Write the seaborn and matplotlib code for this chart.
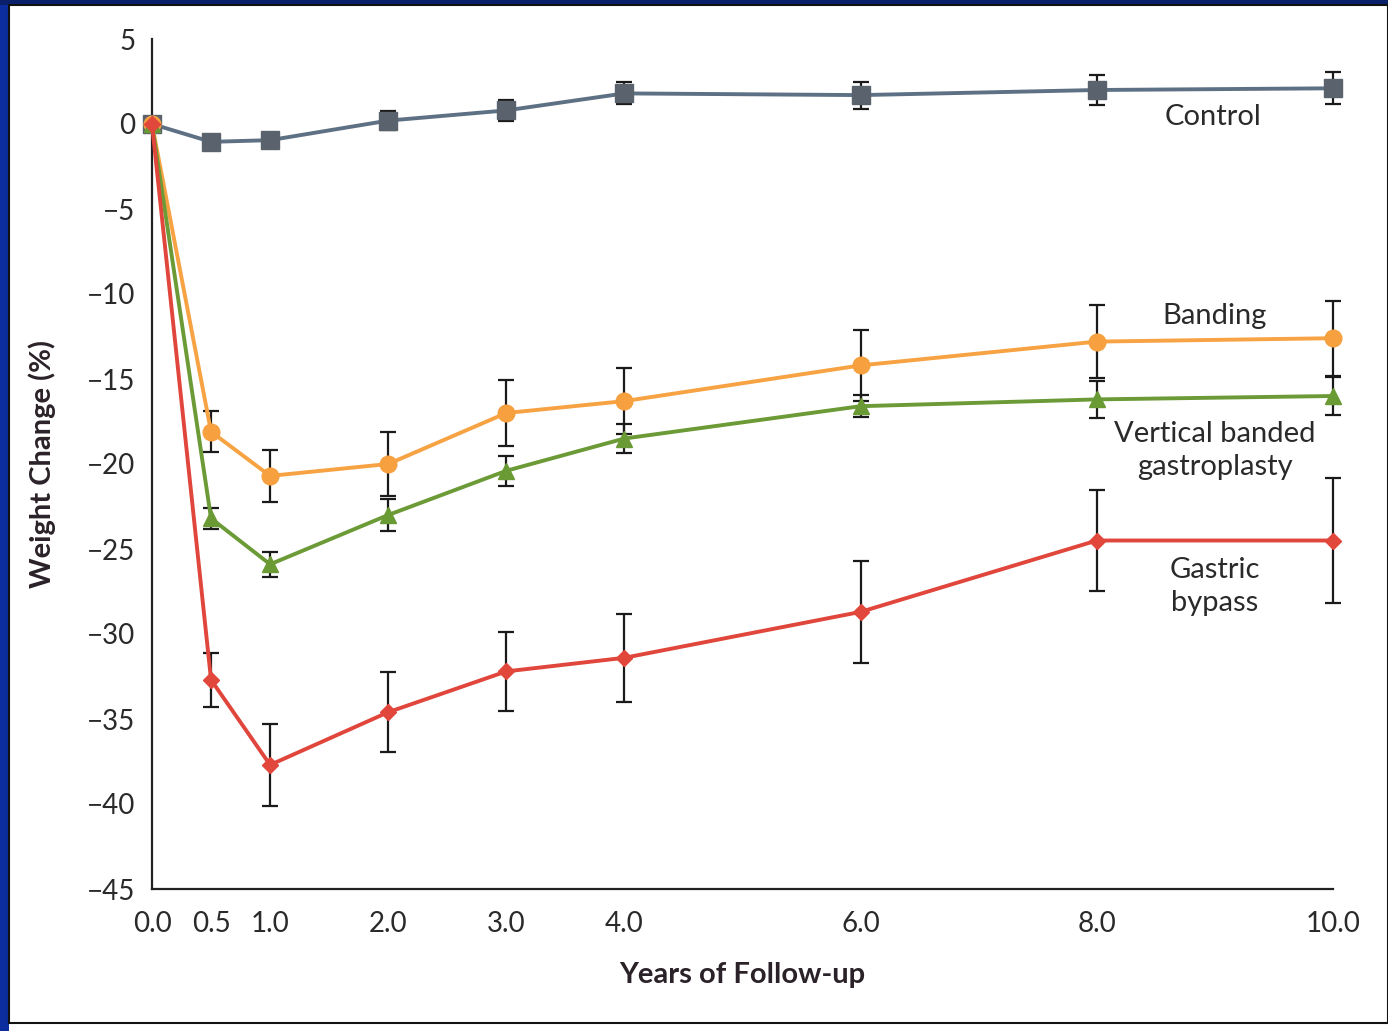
import numpy as np
import pandas as pd
import matplotlib
matplotlib.use("Agg")
import matplotlib.pyplot as plt
from matplotlib.patches import Rectangle
import seaborn as sns

# ---- data ----
years = [0.0, 0.5, 1.0, 2.0, 3.0, 4.0, 6.0, 8.0, 10.0]
control = [0.0, -1.05, -0.95, 0.2, 0.8, 1.8, 1.7, 2.0, 2.1]
control_err = [0.0, 0.4, 0.45, 0.55, 0.6, 0.65, 0.8, 0.9, 0.95]
banding = [0.0, -18.1, -20.7, -20.0, -17.0, -16.3, -14.2, -12.8, -12.6]
banding_err = [0.0, 1.2, 1.55, 1.9, 1.95, 1.95, 2.1, 2.15, 2.2]
vbg = [0.0, -23.2, -25.9, -23.0, -20.4, -18.5, -16.6, -16.2, -16.0]
vbg_err = [0.0, 0.6, 0.75, 0.95, 0.9, 0.85, 0.65, 1.1, 1.1]
bypass = [0.0, -32.7, -37.7, -34.6, -32.2, -31.4, -28.7, -24.5, -24.5]
bypass_err = [0.0, 1.6, 2.4, 2.35, 2.3, 2.6, 3.0, 2.95, 3.7]

groups = ["Control", "Banding", "Vertical banded gastroplasty", "Gastric bypass"]
x_ticks = [0, 0.5, 1, 2, 3, 4, 5, 6, 7, 8, 9, 10]
x_ticklabels = ["0.0", "0.5", "1.0", "2.0", "3.0", "4.0", "", "6.0", "", "8.0", "", "10.0"]
y_ticks = [5, 0, -5, -10, -15, -20, -25, -30, -35, -40, -45]

series_vals = [control, banding, vbg, bypass]
series_err = [control_err, banding_err, vbg_err, bypass_err]
rows = []
for g, vals, errs in zip(groups, series_vals, series_err):
    for x, v, e in zip(years, vals, errs):
        rows.append({"Years": x, "Change": v, "Err": e, "Group": g})
df = pd.DataFrame(rows)

palette = {"Control": "#5e7184", "Banding": "#f7a243",
           "Vertical banded gastroplasty": "#6b9a36", "Gastric bypass": "#e0463b"}
marker_fc = {"Control": "#5a636d", "Banding": "#f7a040",
             "Vertical banded gastroplasty": "#6a9a34", "Gastric bypass": "#e2473c"}
markers = {"Control": "s", "Banding": "o",
           "Vertical banded gastroplasty": "^", "Gastric bypass": "D"}
msizes = {"Control": 13, "Banding": 12, "Vertical banded gastroplasty": 11, "Gastric bypass": 8}

sns.set_theme(style="white")
plt.rcParams["font.family"] = ["Lato", "DejaVu Sans"]

W, H = 1388, 1031
fig = plt.figure(figsize=(W / 100, H / 100), dpi=100, facecolor="#0b2d9e")
# white page with dark border
fig.patches.append(Rectangle((9 / W, 0), 1 - 9 / W, 1 - 5 / H, transform=fig.transFigure,
                             facecolor="white", edgecolor="none", zorder=-2))
fig.patches.append(Rectangle((0, 1 - 5 / H), 1, 5 / H, transform=fig.transFigure,
                             facecolor="#0a1f6a", edgecolor="none", zorder=-2))
fig.patches.append(Rectangle((9 / W, 8 / H), 1 - 9 / W, 1 - 13 / H, transform=fig.transFigure,
                             facecolor="white", edgecolor="#111111", lw=1.5, zorder=-1))

ax = fig.add_axes([152 / W, 1 - 889 / H, (1333 - 152) / W, (889 - 39) / H])
ax.set_zorder(2)
ax.set_facecolor("none")

# error bars
for g in groups:
    sub = df[(df["Group"] == g) & (df["Years"] > 0)]
    ax.errorbar(sub["Years"], sub["Change"], yerr=sub["Err"], fmt="none",
                ecolor="#1a1a1a", elinewidth=1.6, capsize=6, capthick=1.6,
                zorder=3, clip_on=False)

# lines with markers
for g in groups:
    sub = df[df["Group"] == g]
    sns.lineplot(data=sub, x="Years", y="Change", ax=ax, color=palette[g],
                 linewidth=2.8, marker=markers[g], markersize=msizes[g],
                 markerfacecolor=marker_fc[g], markeredgecolor=marker_fc[g],
                 markeredgewidth=1, zorder=4, clip_on=False, legend=False)

ax.set_xlim(0, 10)
ax.set_ylim(-45, 5)
ax.set_xticks(x_ticks)
ax.set_xticklabels(x_ticklabels)
ax.set_yticks(y_ticks)
ax.set_yticklabels([str(t).replace("-", "\u2212") for t in y_ticks])

for s in ["top", "right"]:
    ax.spines[s].set_visible(False)
for s in ["left", "bottom"]:
    ax.spines[s].set_color("#222222")
    ax.spines[s].set_linewidth(1.6)

ax.tick_params(axis="both", direction="out", length=9, width=1.6, color="#222222",
               labelsize=20, labelcolor="#2a2a2a")
ax.tick_params(axis="x", pad=7)
ax.tick_params(axis="y", pad=3)
ax.grid(False)

ax.set_xlabel("Years of Follow-up", fontsize=21, fontweight="bold", color="#2a2228", labelpad=18)
ax.set_ylabel("Weight Change (%)", fontsize=21, fontweight="bold", color="#2a2228", labelpad=22)

label_kw = dict(fontsize=21, color="#2a2a2a", ha="center", va="center", linespacing=1.35)
ax.text(8.98, 0.4, "Control", **label_kw)
ax.text(9.0, -11.3, "Banding", **label_kw)
ax.text(9.0, -19.2, "Vertical banded\ngastroplasty", **label_kw)
ax.text(9.0, -27.2, "Gastric\nbypass", **label_kw)

fig.savefig("out.png", dpi=100, facecolor=fig.get_facecolor())
